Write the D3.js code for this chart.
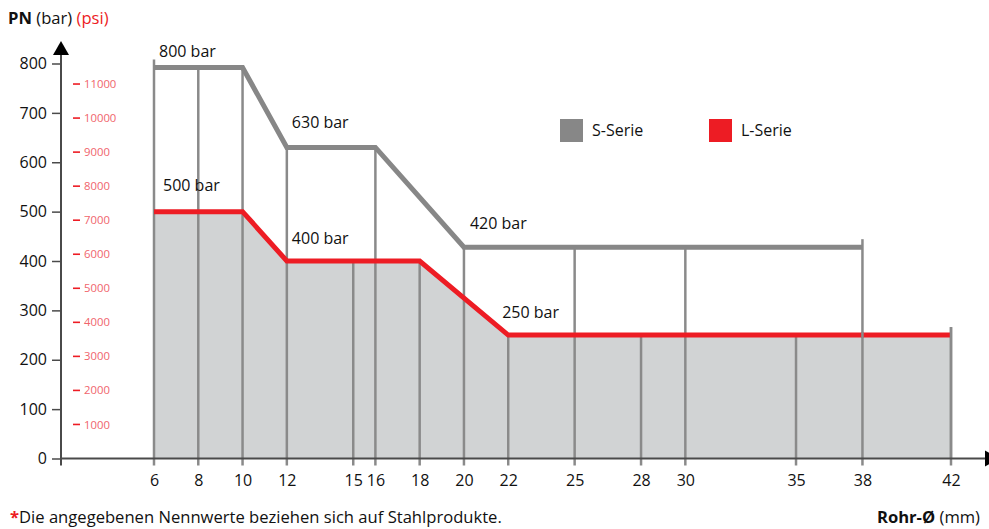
<!DOCTYPE html>
<html><head><meta charset="utf-8">
<script src="https://cdn.jsdelivr.net/npm/d3@7"></script>
<style>
html,body{margin:0;padding:0;background:#fff;}
svg{display:block;font-family:"Open Sans",sans-serif;}
</style></head>
<body><svg id="chart" width="989" height="529"></svg>
<script>
// ---- data ----
const xTicks = [6, 8, 10, 12, 15, 16, 18, 20, 22, 25, 28, 30, 35, 38, 42];
const verticalSeries = ["S","S","S","S","L","S","L","S","L","S","L","S","L","S","L"];
const sX = [6, 10, 12, 16, 20, 38];
const sValues = [792, 792, 630, 630, 428, 428];
const lX = [6, 10, 12, 18, 22, 42];
const lValues = [500, 500, 400, 400, 250, 250];
const yTicks = [0, 100, 200, 300, 400, 500, 600, 700, 800];
const psiTicks = [1000, 2000, 3000, 4000, 5000, 6000, 7000, 8000, 9000, 10000, 11000];
const sLabelX = [6, 12, 20];
const sLabelText = ["800 bar", "630 bar", "420 bar"];
const lLabelX = [6, 12, 22];
const lLabelText = ["500 bar", "400 bar", "250 bar"];
const legendNames = ["S-Serie", "L-Serie"];
const PSI_TO_BAR = 0.0689476;

// ---- style ----
const GRAY = "#878787", VGRAY = "#8a8a8a", RED = "#ed1c24", FILL = "#d1d3d4", AXIS = "#4a4a4a";
const svg = d3.select("#chart");
const x = d3.scaleLinear().domain([6, 42]).range([154, 951]);
const y = d3.scaleLinear().domain([0, 800]).range([458.5, 63.5]);
const sInterp = d3.scaleLinear().domain(sX).range(sValues);
const lInterp = d3.scaleLinear().domain(lX).range(lValues);

// fill under L series
const lPts = lX.map((d, i) => [d, lValues[i]]);
const sPts = sX.map((d, i) => [d, sValues[i]]);
svg.append("path")
  .attr("d", d3.area().x(d => x(d[0])).y0(y(0)).y1(d => y(d[1]))(lPts))
  .attr("fill", FILL);

// vertical lines
const lastX = [6, 38, 42];
svg.append("g").selectAll("line").data(xTicks).join("line")
  .attr("x1", d => x(d)).attr("x2", d => x(d))
  .attr("y1", y(0) + 7)
  .attr("y2", (d, i) => {
    const v = verticalSeries[i] === "S" ? sInterp(d) : lInterp(d);
    return y(v) - (lastX.includes(d) ? 8 : 0);
  })
  .attr("stroke", VGRAY).attr("stroke-width", 2.5);

const line = d3.line().x(d => x(d[0])).y(d => y(d[1]));
svg.append("path").attr("d", line(sPts)).attr("fill", "none")
  .attr("stroke", GRAY).attr("stroke-width", 5).attr("stroke-linejoin", "miter");
svg.append("path").attr("d", line(lPts)).attr("fill", "none")
  .attr("stroke", RED).attr("stroke-width", 5).attr("stroke-linejoin", "miter");

// end caps redrawn over lines
svg.append("g").selectAll("line").data(xTicks.filter(d => d === 38 || d === 42)).join("line")
  .attr("x1", d => x(d)).attr("x2", d => x(d))
  .attr("y1", d => d === 38 ? y(lInterp(d)) + 3 : y(0))
  .attr("y2", d => d === 38 ? y(lInterp(d)) - 3 : y(lInterp(d)) - 8)
  .attr("stroke", VGRAY).attr("stroke-width", 2.5);

// value labels
const sOff = [[5, -10], [5, -19], [6, -18]];
const lOff = [[9, -21], [5, -17], [-6, -17]];
svg.append("g").selectAll("text").data(sLabelX).join("text")
  .attr("x", (d, i) => x(d) + sOff[i][0]).attr("y", (d, i) => y(sInterp(d)) + sOff[i][1])
  .attr("font-size", 16).attr("fill", "#111").text((d, i) => sLabelText[i]);
svg.append("g").selectAll("text").data(lLabelX).join("text")
  .attr("x", (d, i) => x(d) + lOff[i][0]).attr("y", (d, i) => y(lInterp(d)) + lOff[i][1])
  .attr("font-size", 16).attr("fill", "#111").text((d, i) => lLabelText[i]);

// y axis (bar)
const yAxisX = 61;
const yAxis = d3.axisLeft(y).tickValues(yTicks).tickSize(9).tickPadding(5);
const gy = svg.append("g").attr("transform", `translate(${yAxisX},0)`).call(yAxis);
gy.select(".domain").remove();
gy.selectAll(".tick line").attr("stroke", AXIS).attr("stroke-width", 1.5);
gy.selectAll(".tick text").attr("font-size", 16).attr("font-family", "Open Sans").attr("fill", "#111");
svg.append("line").attr("x1", yAxisX).attr("x2", yAxisX).attr("y1", 54).attr("y2", y(0) + 7)
  .attr("stroke", AXIS).attr("stroke-width", 2);
svg.append("path").attr("d", `M${yAxisX},41 L${yAxisX - 8},55 L${yAxisX + 8},55 Z`).attr("fill", "#000");

// psi axis
const gp = svg.append("g");
const psiY = v => y(v * PSI_TO_BAR);
gp.selectAll("line").data(psiTicks).join("line")
  .attr("x1", 73).attr("x2", 80).attr("y1", d => psiY(d)).attr("y2", d => psiY(d))
  .attr("stroke", RED).attr("stroke-width", 1.6);
gp.selectAll("text").data(psiTicks).join("text")
  .attr("x", 84).attr("y", d => psiY(d)).attr("dy", "0.36em")
  .attr("font-size", 11.3).attr("fill", "#f0646c").text(d => d);

// x axis
const xAxis = d3.axisBottom(x).tickValues(xTicks).tickSize(0).tickPadding(16);
const gx = svg.append("g").attr("transform", `translate(0,${y(0)})`).call(xAxis);
gx.select(".domain").remove();
gx.selectAll(".tick text").attr("font-size", 16).attr("font-family", "Open Sans").attr("fill", "#111");
svg.append("line").attr("x1", yAxisX).attr("x2", 986).attr("y1", y(0)).attr("y2", y(0))
  .attr("stroke", AXIS).attr("stroke-width", 2);
svg.append("path").attr("d", `M985,${y(0) - 8} L999,${y(0)} L985,${y(0) + 8} Z`).attr("fill", "#000");

// titles
const t = svg.append("text").attr("x", 8).attr("y", 24).attr("font-size", 16.6).attr("fill", "#111");
t.append("tspan").attr("font-weight", "bold").text("PN");
t.append("tspan").text(" (bar) ");
t.append("tspan").attr("fill", RED).text("(psi)");

const xt = svg.append("text").attr("x", 980).attr("y", 523).attr("text-anchor", "end")
  .attr("font-size", 16.6).attr("fill", "#111");
xt.append("tspan").attr("font-weight", "bold").text("Rohr-Ø");
xt.append("tspan").text(" (mm)");

const fn = svg.append("text").attr("x", 10).attr("y", 523).attr("font-size", 16.6).attr("fill", "#111");
fn.append("tspan").attr("fill", RED).attr("font-weight", "bold").text("*");
fn.append("tspan").text("Die angegebenen Nennwerte beziehen sich auf Stahlprodukte.");

// legend
const legColors = [GRAY, RED];
const legX = [560, 709];
const lg = svg.append("g").selectAll("g").data(legendNames).join("g")
  .attr("transform", (d, i) => `translate(${legX[i]},119)`);
lg.append("rect").attr("width", 23).attr("height", 23).attr("fill", (d, i) => legColors[i]);
lg.append("text").attr("x", 32).attr("y", 17).attr("font-size", 16).attr("fill", "#111").text(d => d);
</script></body></html>
